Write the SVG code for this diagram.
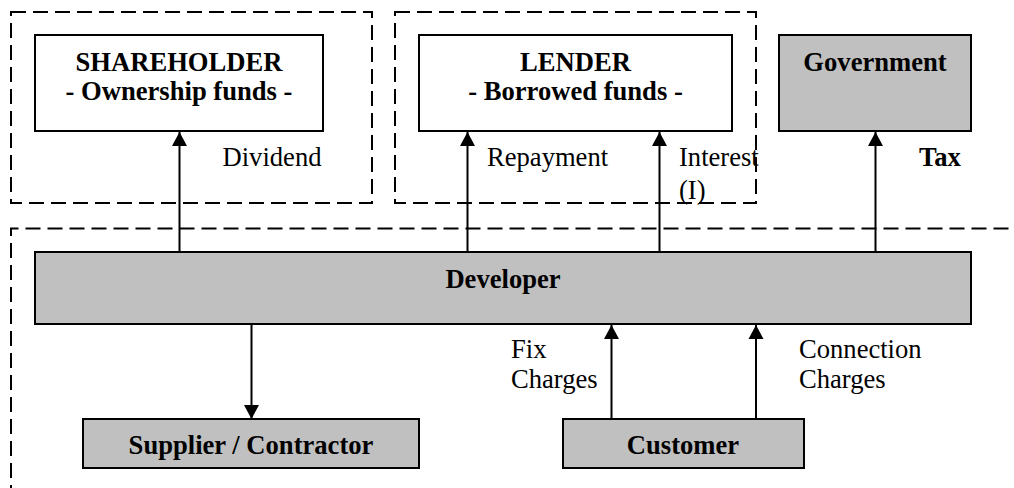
<svg xmlns="http://www.w3.org/2000/svg" width="1014" height="488" viewBox="0 0 1014 488">
<style>
.dash{fill:none;stroke:#000;stroke-width:2;stroke-dasharray:15 7}
.box{fill:#fff;stroke:#000;stroke-width:2}
.grey{fill:#c0c0c0;stroke:#000;stroke-width:2}
.b{font-family:"Liberation Serif",serif;font-weight:bold;font-size:26.6px;fill:#000}
.r{font-family:"Liberation Serif",serif;font-size:26.6px;fill:#000}
.conn{stroke:#000;stroke-width:2;fill:none;marker-end:url(#ah)}
</style>
<defs>
<marker id="ah" markerUnits="userSpaceOnUse" markerWidth="16" markerHeight="16" viewBox="0 0 16 16" refX="14" refY="8" orient="auto">
<path d="M0,0.5 L14,8 L0,15.5 Z" fill="#000"/>
</marker>
</defs>
<g id="regions">
<rect class="dash" x="11" y="12" width="361" height="191"/>
<rect class="dash" x="395" y="12" width="361" height="191"/>
<path class="dash" d="M11,500 V228.5 H1030"/>
</g>
<g id="shareholder">
<rect class="box" x="35" y="35" width="288" height="96"/>
<text class="b" x="179" y="71" text-anchor="middle">SHAREHOLDER</text>
<text class="b" x="179" y="100" text-anchor="middle">- Ownership funds -</text>
</g>
<g id="lender">
<rect class="box" x="419" y="35" width="313" height="96"/>
<text class="b" x="575.5" y="71" text-anchor="middle">LENDER</text>
<text class="b" x="575.5" y="100" text-anchor="middle">- Borrowed funds -</text>
</g>
<g id="government">
<rect class="grey" x="779" y="35" width="192" height="96"/>
<text class="b" x="875" y="71" text-anchor="middle">Government</text>
</g>
<g id="developer">
<rect class="grey" x="35" y="252" width="936" height="72"/>
<text class="b" x="503" y="288" text-anchor="middle">Developer</text>
</g>
<g id="supplier">
<rect class="grey" x="83" y="419" width="336" height="49"/>
<text class="b" x="251" y="454" text-anchor="middle">Supplier / Contractor</text>
</g>
<g id="customer">
<rect class="grey" x="563" y="419" width="241" height="49"/>
<text class="b" x="683" y="454" text-anchor="middle">Customer</text>
</g>
<g id="connectors">
<line class="conn" x1="179.5" y1="252" x2="179.5" y2="132"/>
<line class="conn" x1="467.5" y1="252" x2="467.5" y2="132"/>
<line class="conn" x1="659.5" y1="252" x2="659.5" y2="132"/>
<line class="conn" x1="875.5" y1="252" x2="875.5" y2="132"/>
<line class="conn" x1="251.5" y1="324" x2="251.5" y2="419"/>
<line class="conn" x1="611.5" y1="419" x2="611.5" y2="325"/>
<line class="conn" x1="756" y1="419" x2="756" y2="325"/>
</g>
<g id="labels">
<text class="r" x="222.5" y="166">Dividend</text>
<text class="r" x="487" y="166">Repayment</text>
<text class="r" x="679" y="166">Interest</text>
<text class="r" x="679" y="199">(I)</text>
<text class="b" x="919" y="166">Tax</text>
<text class="r" x="511" y="358">Fix</text>
<text class="r" x="511" y="388">Charges</text>
<text class="r" x="799" y="358">Connection</text>
<text class="r" x="799" y="388">Charges</text>
</g>
</svg>
